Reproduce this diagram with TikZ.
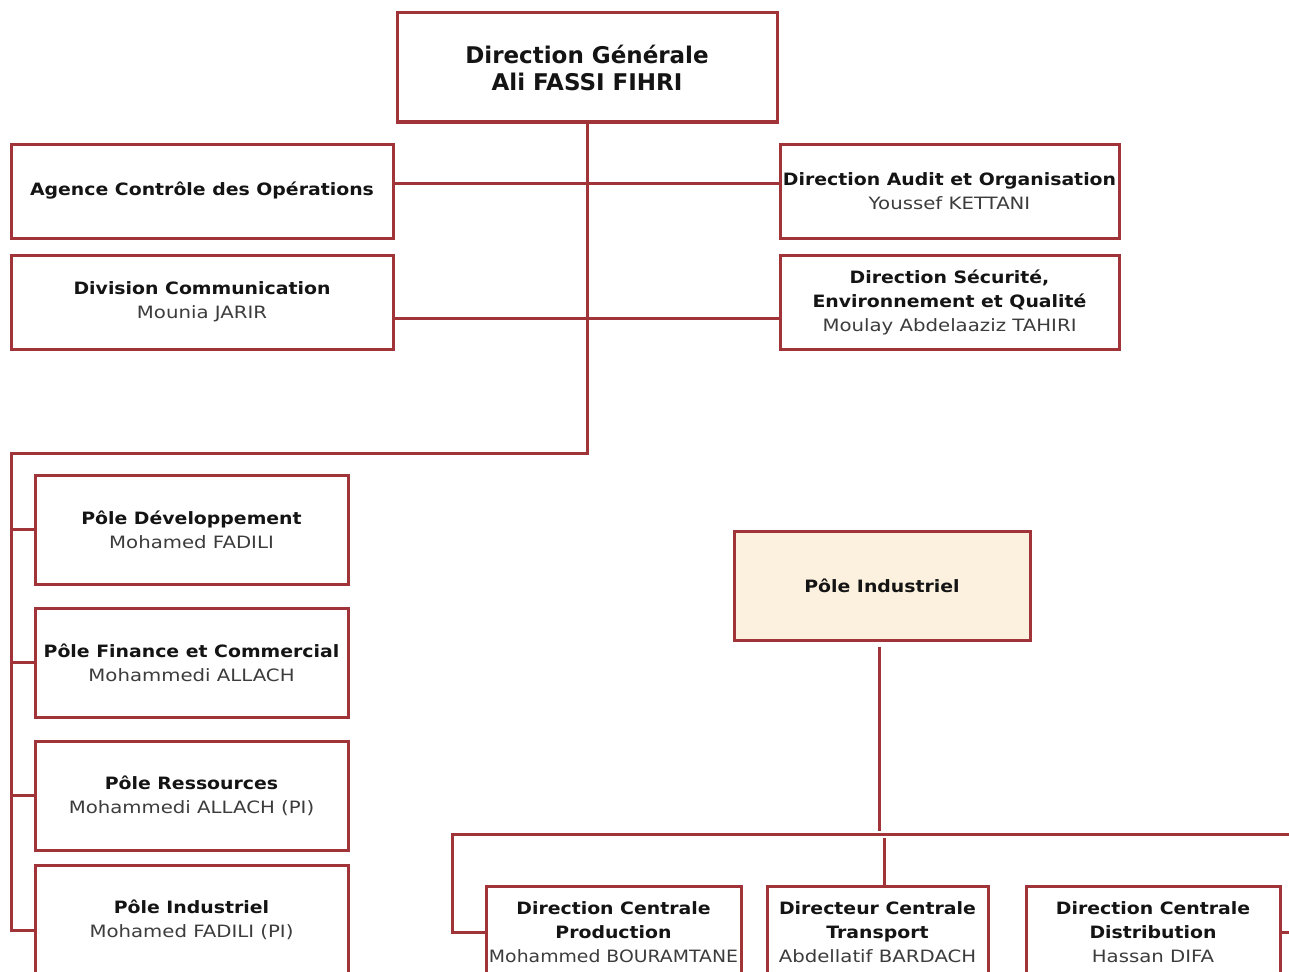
\documentclass[tikz,border=0pt]{standalone}
\usepackage{fontspec}
\setmainfont[UprightFeatures={FakeStretch=1.16},
             BoldFeatures={FakeStretch=1.11}]{DejaVu Sans}
\newfontfamily\headfont{DejaVu Sans}
\usetikzlibrary{calc}

\definecolor{linec}{RGB}{160,52,56}
\definecolor{beige}{RGB}{251,241,222}
\definecolor{titlec}{RGB}{20,20,20}
\definecolor{namec}{RGB}{60,60,60}

\newcommand{\unitt}[1]{{\bfseries\color{titlec}#1}}
\newcommand{\person}[1]{{\color{namec}#1}}

\begin{document}
\begin{tikzpicture}[x=1pt,y=-1pt,
  box/.style={draw=linec, line width=3pt, fill=white, align=center,
    inner sep=0pt, font=\fontsize{17}{24}\selectfont},
  headbox/.style={box, font=\headfont\fontsize{23}{27}\selectfont},
  conn/.style={draw=linec, line width=3pt}]
\useasboundingbox (0,0) rectangle (1289,971);
\clip (0,0) rectangle (1289,971);

% --- top management ---
\node[headbox, minimum width=380pt, minimum height=109pt] (dg) at (587,67.5)
  {\unitt{Direction Générale}\\ \unitt{Ali FASSI FIHRI}};

\node[box, minimum width=382pt, minimum height=94pt] (agence) at (202,191)
  {\unitt{Agence Contrôle des Opérations}};
\node[box, minimum width=382pt, minimum height=94pt] (divcom) at (202,302)
  {\unitt{Division Communication}\\ \person{Mounia JARIR}};
\node[box, minimum width=339pt, minimum height=94pt] (audit) at (949.5,191)
  {\unitt{Direction Audit et Organisation}\\ \person{Youssef KETTANI}};
\node[box, minimum width=339pt, minimum height=94pt] (secu) at (949.5,302)
  {\unitt{Direction Sécurité,}\\ \unitt{Environnement et Qualité}\\ \person{Moulay Abdelaaziz TAHIRI}};

% --- poles ---
\node[box, minimum width=313pt, minimum height=109pt] (pdev) at (191.5,529.5)
  {\unitt{Pôle Développement}\\ \person{Mohamed FADILI}};
\node[box, minimum width=313pt, minimum height=109pt] (pfin) at (191.5,662.5)
  {\unitt{Pôle Finance et Commercial}\\ \person{Mohammedi ALLACH}};
\node[box, minimum width=313pt, minimum height=109pt] (pres) at (191.5,795.5)
  {\unitt{Pôle Ressources}\\ \person{Mohammedi ALLACH (PI)}};
\node[box, minimum width=313pt, minimum height=110pt] (pindl) at (191.5,920)
  {\unitt{Pôle Industriel}\\ \person{Mohamed FADILI (PI)}};

% --- industrial pole ---
\node[box, fill=beige, minimum width=296pt, minimum height=109pt] (pind) at (882,585.5)
  {\unitt{Pôle Industriel}};

\node[box, minimum width=255pt, minimum height=92pt] (dcprod) at (613.5,932)
  {\unitt{Direction Centrale}\\ \unitt{Production}\\ \person{\scalebox{0.955}[1]{Mohammed BOURAMTANE}}};
\node[box, minimum width=221pt, minimum height=92pt] (dctrans) at (877.5,932)
  {\unitt{Directeur Centrale}\\ \unitt{Transport}\\ \person{Abdellatif BARDACH}};
\node[box, minimum width=254pt, minimum height=92pt] (dcdist) at (1153,932)
  {\unitt{Direction Centrale}\\ \unitt{Distribution}\\ \person{Hassan DIFA}};

% --- connectors: top ---
\coordinate (rail) at (11,453);
\draw[conn] (dg.south) |- (rail) |- ([yshift=-10pt]pindl.west);
\draw[conn] (rail |- pdev.west) -- (pdev.west);
\draw[conn] (rail |- pfin.west) -- (pfin.west);
\draw[conn] (rail |- pres.west) -- (pres.west);
\draw[conn] ([yshift=8pt]agence.east) -- ([yshift=8pt]audit.west);
\draw[conn] ([yshift=-16pt]divcom.east) -- ([yshift=-16pt]secu.west);

% --- connectors: industrial pole ---
\coordinate (drop) at (879,831);
\coordinate (busL) at (452,834);
\coordinate (busR) at (1310,834);
\coordinate (tdrop) at (884,838);
\draw[conn] ([yshift=-5pt]pind.south -| drop) -- (drop);
\draw[conn] (dcprod.west) -| (busL) -- (busR) |- (dcdist.east);
\draw[conn] (tdrop) -- (tdrop |- dctrans.north);
\end{tikzpicture}
\end{document}
